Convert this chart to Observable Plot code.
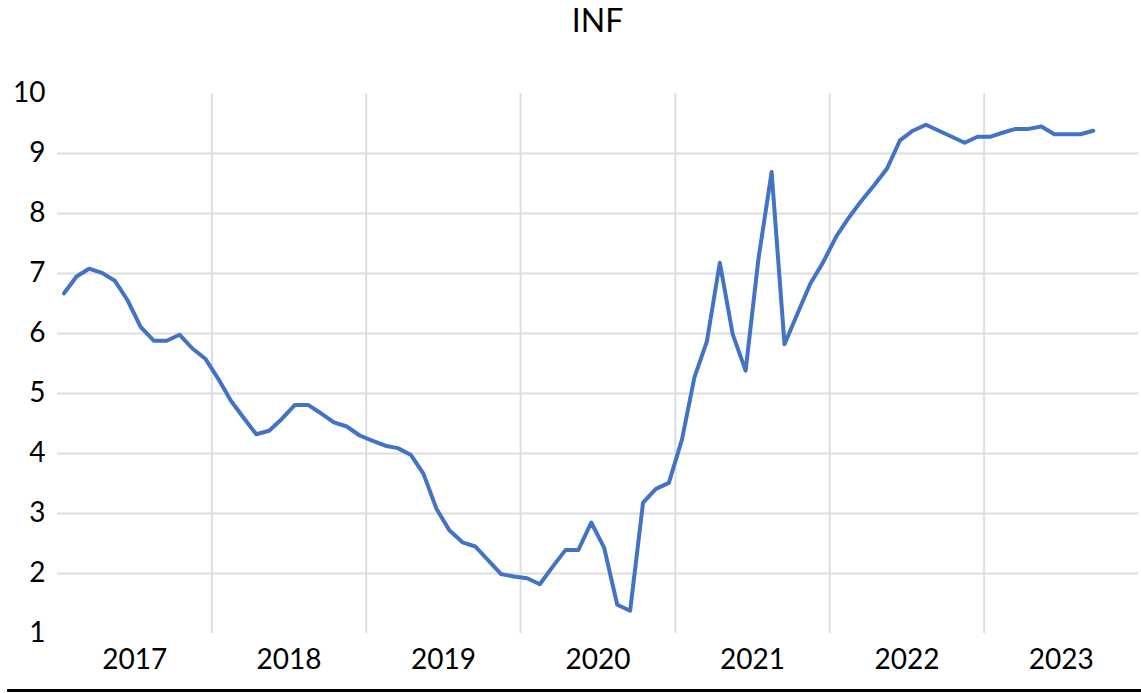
<!DOCTYPE html>
<html>
<head>
<meta charset="utf-8">
<script src="https://cdn.jsdelivr.net/npm/d3@7"></script>
<script src="https://cdn.jsdelivr.net/npm/@observablehq/plot@0.6"></script>
<style>
  html, body { margin: 0; padding: 0; background: #fff; }
  #wrap { position: relative; width: 1141px; height: 693px; overflow: hidden; font-family: Lato, "Noto Sans", sans-serif; }
  #title { position: absolute; top: 0; left: 57px; width: 1081px; text-align: center; font-size: 32px; color: #000; line-height: normal; }
  #bottomline { position: absolute; top: 689px; left: 7px; right: 0; height: 3px; background: #000; }
  #chart { position: absolute; top: 0; left: 0; }
</style>
</head>
<body>
<div id="wrap">
  <div id="chart"></div>
  <div id="title">INF</div>
  <div id="bottomline"></div>
</div>
<script>
// ---- data ----
const startYear = 2017;           // first month: January 2017 (monthly series)
const years = [2017, 2018, 2019, 2020, 2021, 2022, 2023];
const yTicks = [1, 2, 3, 4, 5, 6, 7, 8, 9, 10];
const inf = [
  6.67, 6.95, 7.08, 7.01, 6.88, 6.55, 6.11, 5.88, 5.88, 5.98, 5.75, 5.58,   // 2017
  5.24, 4.88, 4.60, 4.32, 4.38, 4.58, 4.81, 4.81, 4.67, 4.52, 4.45, 4.30,   // 2018
  4.21, 4.13, 4.09, 3.98, 3.66, 3.08, 2.72, 2.52, 2.45, 2.22, 1.99, 1.95,   // 2019
  1.92, 1.82, 2.11, 2.39, 2.39, 2.85, 2.43, 1.48, 1.38, 3.18, 3.41, 3.51,   // 2020
  4.23, 5.27, 5.87, 7.18, 5.99, 5.38, 7.25, 8.69, 5.82, 6.33, 6.83, 7.19,   // 2021
  7.62, 7.93, 8.21, 8.47, 8.75, 9.22, 9.38, 9.48, 9.38, 9.28, 9.18, 9.28,   // 2022
  9.28, 9.35, 9.41, 9.41, 9.45, 9.32, 9.32, 9.32, 9.38                      // 2023
];

// ---- build table ----
const start = new Date(Date.UTC(startYear, 0, 1));
const rows = inf.map((v, i) => {
  const m0 = d3.utcMonth.offset(start, i);
  const m1 = d3.utcMonth.offset(start, i + 1);
  return { date: new Date((+m0 + +m1) / 2), value: v };
});
const yearStart = y => new Date(Date.UTC(y, 0, 1));
const yearMid = years.map(y => new Date((+yearStart(y) + +yearStart(y + 1)) / 2));
const yearBounds = years.slice(1).map(yearStart);
const gridY = yTicks.filter(t => t > 1 && t < 10);

const chart = Plot.plot({
  width: 1141,
  height: 693,
  marginTop: 93,
  marginBottom: 60,
  marginLeft: 57,
  marginRight: 3,
  style: { fontFamily: "Lato, 'Noto Sans', sans-serif", fontSize: "28px", color: "#000", background: "transparent" },
  x: { type: "utc", domain: [yearStart(years[0]), yearStart(years[years.length - 1] + 1)] },
  y: { domain: [1, 10] },
  marks: [
    Plot.ruleY(gridY, { stroke: "#dedede", strokeWidth: 2 }),
    Plot.ruleX(yearBounds, { y1: 1, y2: 10, stroke: "#dedede", strokeWidth: 2 }),
    Plot.axisY(yTicks, { tickSize: 0, tickPadding: 12, fontSize: 28, label: null, tickFormat: d3.format("d") }),
    Plot.axisX(yearMid, { tickSize: 0, tickPadding: 16, fontSize: 28, label: null, tickFormat: d3.utcFormat("%Y") }),
    Plot.line(rows, { x: "date", y: "value", stroke: "#4472C4", strokeWidth: 4 })
  ]
});
document.getElementById("chart").appendChild(chart);
</script>
</body>
</html>
